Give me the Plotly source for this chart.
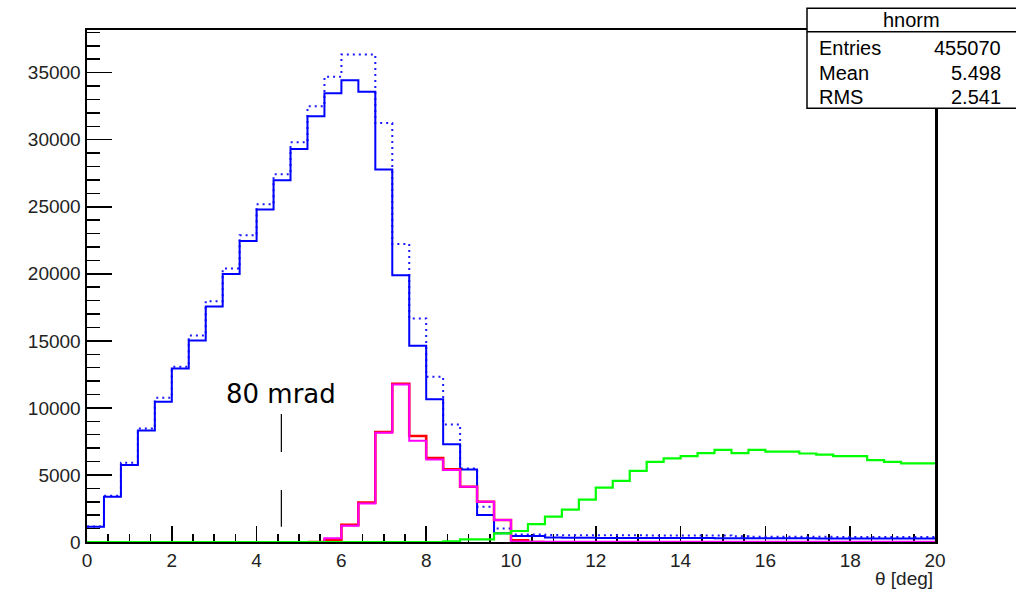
import plotly.graph_objects as go

# ---------------- data ----------------
bin_width = 0.4
n_bins = 50
bin_edges = [round(bin_width * i, 1) for i in range(n_bins + 1)]

blue_dotted = [1150, 3450, 5910, 8470, 10750, 13060, 15400, 17960, 20390, 22880,
               25190, 27420, 29810, 32490, 34700, 36360, 36360, 31240, 22230, 16670,
               12320, 8770, 5490, 2630, 1000,
               560, 560, 520, 510, 500, 500, 500, 500, 490, 490,
               490, 480, 480, 420, 400, 400, 390, 390, 390, 380,
               380, 380, 380, 380, 380]

blue_solid = [1140, 3380, 5740, 8320, 10450, 12940, 15030, 17560, 19990, 22450,
              24790, 26980, 29310, 31740, 33460, 34430, 33580, 27770, 19900, 14630,
              10650, 7280, 5400, 2010, 650,
              450, 450, 330, 320, 310, 300, 300, 300, 290, 290,
              290, 290, 280, 280, 280, 280, 280, 280, 270, 270,
              270, 270, 270, 270, 270]

green = [0] * 21 + [40, 200, 200, 650, 820, 1340, 1890, 2420, 3160,
                    4050, 4560, 5310, 5970, 6240, 6410, 6630, 6870, 6630, 6870,
                    6740, 6740, 6600, 6510, 6410, 6410, 6110, 5980, 5860, 5860]

red = [0] * 14 + [180, 1280, 2940, 8200, 11800, 7900, 6260, 5420, 4120, 3000,
                  1640, 130] + [0] * 24

magenta = [0] * 14 + [280, 1220, 2880, 8150, 11750, 7550, 6160, 5365, 4120, 3000,
                      1640, 40] + [20] * 24

stats_title = "hnorm"
stats_rows = [("Entries", "455070"), ("Mean", "5.498"), ("RMS", "2.541")]

marker_deg = 4.584  # 80 mrad
marker_label = "80 mrad"
x_title = "θ [deg]"

y_max = 38180

FONT = "Liberation Sans, Arial, sans-serif"


def step(vals, start=0, stop=None):
    stop = len(vals) if stop is None else stop
    xs = bin_edges[start:stop + 1]
    ys = list(vals[start:stop]) + [vals[stop - 1]]
    return xs, ys


fig = go.Figure()

# (values, colour, width, dash, first bin, last bin)
series = [
    (blue_dotted, "#1a1aff", 2, "2px,4px", 0, None),
    (blue_solid, "#0000ff", 2, "solid", 0, None),
    (red, "#ff0000", 2.6, "solid", 13, 27),
    (magenta, "#ff00ff", 2, "solid", 0, None),
    (green, "#00ff00", 2.2, "solid", 0, None),
]
for vals, color, w, dash, a, b in series:
    xs, ys = step(vals, a, b)
    fig.add_trace(go.Scatter(x=xs, y=ys, mode="lines", line_shape="hv",
                             line=dict(color=color, width=w, dash=dash),
                             showlegend=False, hoverinfo="skip", cliponaxis=False))

# 80 mrad marker (dashed vertical line)
fig.add_trace(go.Scatter(x=[marker_deg, marker_deg], y=[9540, 1140], mode="lines",
                         line=dict(color="black", width=1.2, dash="38px,38px"),
                         showlegend=False, hoverinfo="skip"))

fig.add_annotation(x=marker_deg, y=11050, xref="x", yref="y", text=marker_label,
                   showarrow=False, xanchor="center", yanchor="middle",
                   font=dict(family="DejaVu Sans, sans-serif", size=26, color="black"))

# x-axis title (ROOT style, right aligned under the axis)
fig.add_annotation(x=1.0, y=-0.072, xref="paper", yref="paper", text=x_title,
                   showarrow=False, xanchor="right", yanchor="middle",
                   font=dict(family=FONT, size=19, color="#222"))

# ---------------- stats box ----------------
pw = 848.0
ph = 512.0


def px(xpix):
    return (xpix - 87) / pw


def py(ypix):
    return (542 - ypix) / ph


fig.add_shape(type="rect", xref="paper", yref="paper",
              x0=px(807), x1=px(1030), y0=py(108.3), y1=py(8.3),
              line=dict(color="black", width=1.5), fillcolor="white", layer="above")
fig.add_shape(type="line", xref="paper", yref="paper",
              x0=px(807), x1=px(1030), y0=py(31.7), y1=py(31.7),
              line=dict(color="black", width=1.5), layer="above")
fig.add_annotation(x=px(911), y=py(20.3), xref="paper", yref="paper",
                   text=stats_title, showarrow=False, xanchor="center", yanchor="middle",
                   font=dict(family=FONT, size=20, color="black"))
row_y = [48, 72.7, 96.7]
for (lab, val), yy in zip(stats_rows, row_y):
    fig.add_annotation(x=px(817), y=py(yy), xref="paper", yref="paper", text=lab,
                       showarrow=False, xanchor="left", yanchor="middle",
                       font=dict(family=FONT, size=20, color="black"))
    fig.add_annotation(x=px(1003), y=py(yy), xref="paper", yref="paper", text=val,
                       showarrow=False, xanchor="right", yanchor="middle",
                       font=dict(family=FONT, size=20, color="black"))

fig.update_layout(
    width=1016, height=593,
    margin=dict(l=87, r=81, t=30, b=51),
    paper_bgcolor="white", plot_bgcolor="white",
    showlegend=False,
    xaxis=dict(range=[0, 20], dtick=2, tick0=0, showgrid=False, zeroline=False,
               layer="below traces",
               showline=True, linecolor="black", linewidth=2, mirror=True,
               ticks="inside", ticklen=16, tickwidth=1.5, tickcolor="black",
               minor=dict(dtick=0.5, tick0=0, ticks="inside", ticklen=8,
                          tickwidth=1.5, tickcolor="black", showgrid=False),
               tickfont=dict(family=FONT, size=19, color="#222")),
    yaxis=dict(range=[0, y_max], dtick=5000, tick0=0, showgrid=False, zeroline=False,
               tickformat="d", layer="below traces",
               showline=True, linecolor="black", linewidth=2.5, mirror=True,
               ticks="inside", ticklen=25, tickwidth=1.5, tickcolor="black",
               minor=dict(dtick=1000, tick0=0, ticks="inside", ticklen=13,
                          tickwidth=1.5, tickcolor="black", showgrid=False),
               tickfont=dict(family=FONT, size=19, color="#222")),
)

fig.write_html("out.html",
               config={"displayModeBar": False, "staticPlot": True},
               post_script="document.body.style.margin='0';document.body.style.padding='0';")
